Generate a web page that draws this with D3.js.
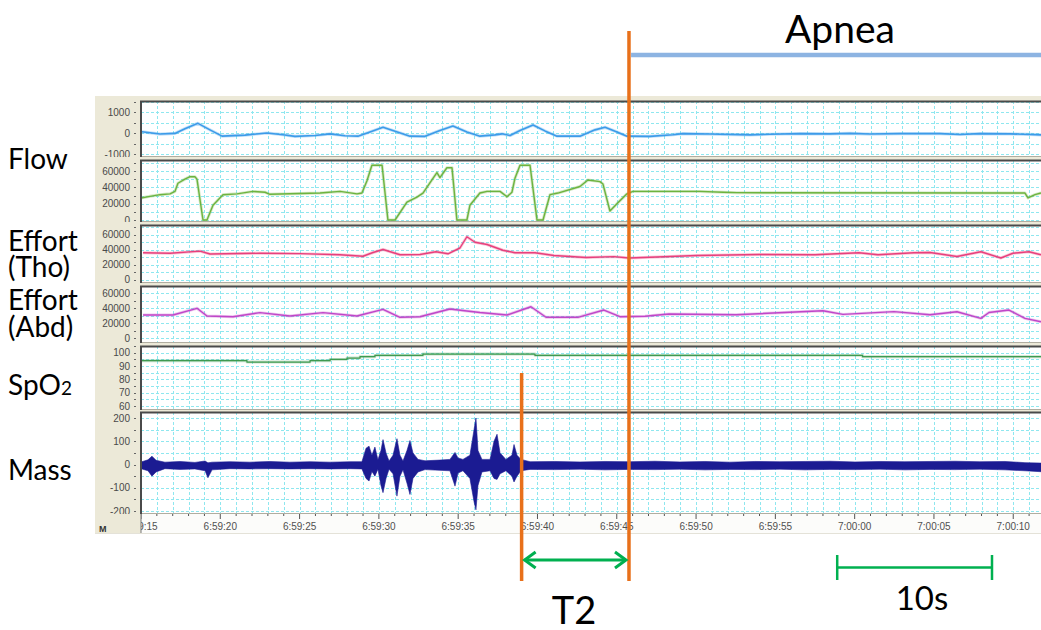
<!DOCTYPE html>
<html>
<head>
<meta charset="utf-8">
<script src="https://cdnjs.cloudflare.com/ajax/libs/d3/7.8.5/d3.min.js"></script>
<style>
body { margin: 0; background: #fff; }
svg { display: block; }
</style>
</head>
<body>
<div id="interface"></div>
<script>

// ---- data (time in seconds from 6:59:15) ----
var flowTime = [0.06, 1.2, 2.14, 2.77, 3.59, 4.35, 5.11, 6.56, 7.94, 8.95, 9.71, 10.97, 11.92, 12.86, 13.68, 14.57, 15.26, 16.02, 16.96, 17.91, 18.85, 19.67, 20.55, 21.37, 22.32, 22.76, 23.27, 23.9, 24.72, 25.47, 26.23, 27.68, 28.63, 29.26, 30.01, 30.64, 32.09, 33.54, 34.17, 35.87, 38.4, 39.66, 41.56, 43.44, 44.7, 45.96, 47.86, 50.38, 51.64, 52.9, 54.79, 56.05, 56.75];
var flowValue = [60, -50, -20, 200, 460, 150, -150, -100, 0, -80, -160, -120, -40, -130, -150, 80, 270, 80, -150, -160, 120, 330, 50, -150, -90, -40, -120, 120, 380, 100, -150, -150, 150, 270, 50, -150, -160, -80, -30, -50, -90, -60, -30, -40, -20, -50, -30, -30, -70, -30, -40, -70, -90];

var pressTime = [0, 0.57, 1.2, 1.83, 2.14, 2.33, 2.77, 3.09, 3.4, 3.53, 3.91, 4.16, 4.54, 5.17, 6.05, 7.06, 7.82, 8.13, 11.29, 12.55, 13.62, 13.93, 14.25, 14.56, 15.2, 15.57, 16.02, 16.77, 17.4, 17.78, 18.41, 18.66, 18.85, 19.29, 19.61, 19.92, 20.55, 20.74, 21.37, 21.82, 22.64, 23.08, 23.39, 23.58, 23.9, 24.53, 24.97, 25.35, 25.79, 26.29, 27.68, 28.18, 28.94, 29.13, 29.57, 30.01, 30.64, 31.02, 35.24, 36.7, 37.58, 55.74, 55.93, 56.37, 56.75];
var pressValue = [27000, 29000, 31000, 32000, 35000, 45000, 50000, 53000, 53000, 50000, 0, 0, 18000, 31000, 32000, 35000, 34000, 31500, 33000, 35000, 32000, 33000, 48000, 67000, 67000, 0, 0, 22000, 28000, 33000, 51000, 58000, 52000, 64000, 64000, 0, 0, 18000, 33000, 35000, 35000, 28500, 34000, 51000, 67000, 67000, 0, 0, 31000, 33000, 41000, 49000, 47000, 44000, 11000, 20000, 32000, 35000, 35000, 34000, 33500, 33000, 27000, 31000, 33000];

var thoTime = [0.13, 1.83, 3.72, 4.35, 7.5, 10.03, 12.55, 14.0, 14.63, 15.26, 16.33, 17.59, 18.6, 19.36, 20.11, 20.55, 21.06, 21.82, 22.82, 23.58, 24.84, 26.04, 28.06, 29.82, 30.77, 32.53, 35.06, 39.03, 42.5, 45.27, 46.47, 48.74, 49.75, 51.45, 52.96, 54.22, 54.98, 55.99, 56.75];
var thoValue = [35600, 35000, 37800, 34000, 35000, 34500, 33000, 31000, 36000, 40000, 33000, 33300, 37000, 34300, 42000, 57000, 49700, 46700, 39000, 35600, 35600, 32000, 29300, 30500, 28700, 30000, 32000, 33300, 33000, 35600, 33000, 35600, 36000, 30600, 37000, 28700, 35000, 37000, 33000];

var abdTime = [0.13, 2.02, 3.53, 4.16, 5.8, 7.5, 9.39, 11.48, 13.62, 15.26, 16.33, 17.59, 19.48, 20.55, 21.37, 23.08, 24.59, 25.54, 27.55, 29.19, 30.2, 31.78, 33.29, 37.52, 43.0, 44.26, 47.48, 49.75, 51.45, 52.96, 53.47, 54.73, 55.74, 56.75];
var abdValue = [30700, 30700, 39600, 29300, 28400, 33800, 29300, 33800, 29300, 38200, 27600, 28400, 38700, 36000, 34000, 30700, 41700, 27600, 27600, 37300, 28400, 29000, 32000, 31000, 36400, 31500, 35100, 31000, 35000, 26200, 34000, 37300, 26200, 21700];

var spo2Time = [0, 6.68, 10.66, 11.92, 12.99, 13.81, 14.75, 17.78, 24.84, 45.5, 56.75];
var spo2Value = [94, 93, 94, 95, 96, 97, 98, 99, 98, 97, 97];

var massTime = [0.06, 0.44, 0.69, 0.95, 1.51, 2.46, 3.4, 4.04, 4.22, 4.48, 5.61, 6.87, 8.13, 9.39, 10.66, 11.92, 13.18, 13.93, 14.19, 14.38, 14.56, 14.75, 14.94, 15.13, 15.26, 15.45, 15.64, 15.89, 16.14, 16.33, 16.52, 16.77, 16.96, 17.15, 17.47, 17.91, 18.85, 19.48, 19.8, 19.99, 20.3, 20.74, 21.0, 21.12, 21.25, 21.5, 22.01, 22.26, 22.45, 22.64, 23.01, 23.39, 23.52, 23.71, 23.96, 24.53, 26.1, 27.68, 29.26, 30.83, 32.41, 33.98, 35.56, 37.14, 38.71, 40.29, 41.87, 43.44, 45.02, 46.6, 48.17, 49.75, 51.32, 52.9, 54.48, 55.74, 56.75];
var massHigh = [12, 20, 36, 18, 10, 13, 9, 15, 7, 10, 12, 10, 13, 10, 12, 10, 12, 12, 70, 79, 40, 75, 20, 60, 107, 50, 15, 40, 111, 40, 15, 60, 103, 50, 22, 16, 19, 22, 52, 28, 22, 40, 150, 200, 60, 22, 22, 100, 130, 50, 22, 40, 86, 40, 22, 12, 13, 11, 13, 12, 14, 11, 13, 10, 13, 12, 13, 14, 11, 13, 12, 13, 14, 12, 13, 8, 6];
var massLow = [-19, -27, -50, -32, -18, -21, -19, -27, -57, -23, -18, -19, -18, -19, -18, -19, -18, -19, -60, -71, -30, -50, -20, -90, -121, -60, -20, -40, -136, -50, -23, -80, -129, -60, -32, -22, -25, -27, -93, -37, -27, -60, -160, -195, -90, -32, -27, -60, -64, -40, -27, -50, -75, -50, -27, -21, -22, -20, -23, -21, -22, -20, -23, -21, -22, -20, -23, -21, -22, -20, -23, -21, -22, -20, -23, -27, -31];

// tick labels
var flowTicks = [-1000, 0, 1000];
var pressTicks = [0, 20000, 40000, 60000];
var effortTicks = [0, 20000, 40000, 60000];
var spo2Ticks = [60, 70, 80, 90, 100];
var massTicks = [-200, -100, 0, 100, 200];
var timeTicks = [0, 5, 10, 15, 20, 25, 30, 35, 40, 45, 50, 55];
var timeLabels = ["6:59:15", "6:59:20", "6:59:25", "6:59:30", "6:59:35", "6:59:40", "6:59:45", "6:59:50", "6:59:55", "7:00:00", "7:00:05", "7:00:10"];

// annotations (seconds)
var cursorTimes = [24.0, 30.77];
var apneaStart = 30.9;
var scaleBarTimes = [43.9, 53.66];


// global variables
var svg_w = 1041;
var svg_h = 630;
var plot_l = 141;
var plot_r = 1041;
var axis_l = 95;

var svg = d3.select("body")
	.select("#interface")
	.append("svg")
	.attr("width", svg_w)
	.attr("height", svg_h);

var x_scale = d3.scaleLinear()
	.domain([0, 56.75])
	.range([plot_l, plot_r]);

// panel layout: ref values and the pixel rows they sit on
var panels = [
	{id: "flow", top: 101, bottom: 157, ref: [0, 1000], refY: [133, 112], ticks: flowTicks, step: 500, color: "#3d9be9", width: 1.6,
		pts: d3.zip(flowTime, flowValue)},
	{id: "press", top: 160, bottom: 222, ref: [0, 60000], refY: [220, 171], ticks: pressTicks, step: 10000, color: "#6db33f", width: 1.4,
		pts: d3.zip(pressTime, pressValue)},
	{id: "tho", top: 225, bottom: 283, ref: [0, 60000], refY: [279.5, 234.5], ticks: effortTicks, step: 10000, color: "#e8407c", width: 1.4,
		pts: d3.zip(thoTime, thoValue)},
	{id: "abd", top: 286, bottom: 343, ref: [0, 60000], refY: [338, 293], ticks: effortTicks, step: 10000, color: "#c046c8", width: 1.4,
		pts: d3.zip(abdTime, abdValue)},
	{id: "spo2", top: 346, bottom: 410, ref: [60, 100], refY: [406, 352.7], ticks: spo2Ticks, step: 5, color: "#3f9a50", width: 1.3,
		pts: d3.zip(spo2Time, spo2Value), step_curve: true},
	{id: "mass", top: 412, bottom: 514, ref: [-200, 200], refY: [511, 418], ticks: massTicks, step: 50, color: "#1b1b92", width: 0.6,
		env: d3.zip(massTime, massHigh, massLow)}
];

// beige frame behind everything
svg.append("rect")
	.attr("x", axis_l).attr("y", 96)
	.attr("width", svg_w - axis_l).attr("height", 437)
	.attr("fill", "#ece9d8");

// time axis row
svg.append("rect")
	.attr("x", plot_l).attr("y", 514)
	.attr("width", plot_r - plot_l).attr("height", 19)
	.attr("fill", "#fcfcfa");

var defs = svg.append("defs");

// the big loop that makes every panel
for (var q = 0; q < panels.length; q++) {
	var p = panels[q];
	var y = d3.scaleLinear().domain(p.ref).range(p.refY);
	var lo = y.invert(p.bottom), hi = y.invert(p.top);

	defs.append("clipPath").attr("id", "clip-" + p.id)
		.append("rect")
		.attr("x", plot_l).attr("y", p.top)
		.attr("width", plot_r - plot_l).attr("height", p.bottom - p.top);
	defs.append("clipPath").attr("id", "aclip-" + p.id)
		.append("rect")
		.attr("x", axis_l).attr("y", p.top)
		.attr("width", plot_l - axis_l).attr("height", p.bottom - p.top);

	var g = svg.append("g").attr("class", "panel " + p.id);

	g.append("rect")
		.attr("x", plot_l).attr("y", p.top)
		.attr("width", plot_r - plot_l).attr("height", p.bottom - p.top)
		.attr("fill", "#ffffff");

	var grid = g.append("g").attr("clip-path", "url(#clip-" + p.id + ")");

	// vertical grid, one per second
	grid.selectAll("line.v")
		.data(d3.range(0, 57, 1))
		.enter()
		.append("line")
		.attr("class", "v")
		.attr("x1", function(d) { return Math.round(x_scale(d)) + 0.5; })
		.attr("x2", function(d) { return Math.round(x_scale(d)) + 0.5; })
		.attr("y1", p.top)
		.attr("y2", p.bottom)
		.attr("stroke", "#8fe7ef")
		.attr("stroke-width", 1)
		.attr("stroke-dasharray", "3,2");

	// horizontal grid
	var hticks = d3.range(Math.ceil(lo / p.step) * p.step, hi, p.step);
	grid.selectAll("line.h")
		.data(hticks)
		.enter()
		.append("line")
		.attr("class", "h")
		.attr("x1", plot_l)
		.attr("x2", plot_r)
		.attr("y1", function(d) { return Math.round(y(d)) + 0.5; })
		.attr("y2", function(d) { return Math.round(y(d)) + 0.5; })
		.attr("stroke", "#8fe7ef")
		.attr("stroke-width", 1)
		.attr("stroke-dasharray", "3,2");

	// signal
	var sig = g.append("g").attr("clip-path", "url(#clip-" + p.id + ")");
	if (p.env) {
		var area = d3.area()
			.x(function(d) { return x_scale(d[0]); })
			.y0(function(d) { return y(d[2]); })
			.y1(function(d) { return y(d[1]); });
		sig.append("path")
			.attr("d", area(p.env))
			.attr("fill", p.color)
			.attr("stroke", p.color)
			.attr("stroke-width", p.width)
			.attr("stroke-linejoin", "round");
	} else {
		var line = d3.line()
			.x(function(d) { return x_scale(d[0]); })
			.y(function(d) { return y(d[1]); });
		if (p.step_curve) line.curve(d3.curveStepAfter);
		// soft halo like the screenshot
		sig.append("path")
			.attr("d", line(p.pts))
			.attr("fill", "none")
			.attr("stroke", p.color)
			.attr("stroke-opacity", 0.3)
			.attr("stroke-width", p.width + 1.6)
			.attr("stroke-linejoin", "round");
		sig.append("path")
			.attr("d", line(p.pts))
			.attr("fill", "none")
			.attr("stroke", p.color)
			.attr("stroke-width", p.width)
			.attr("stroke-linejoin", "round");
	}

	// axis labels (clipped like the original)
	var ax = g.append("g").attr("clip-path", "url(#aclip-" + p.id + ")");
	ax.selectAll("text")
		.data(p.ticks)
		.enter()
		.append("text")
		.attr("x", 130)
		.attr("y", function(d) { return y(d) + 3.6; })
		.attr("text-anchor", "end")
		.attr("font-family", "Liberation Sans, Arial, sans-serif")
		.attr("font-size", "10px")
		.attr("fill", "#4a4a4a")
		.text(function(d) { return d; });
	ax.selectAll("line")
		.data(hticks)
		.enter()
		.append("line")
		.attr("x1", 134).attr("x2", 136)
		.attr("y1", function(d) { return Math.round(y(d)) + 0.5; })
		.attr("y2", function(d) { return Math.round(y(d)) + 0.5; })
		.attr("stroke", "#666");

	// frame
	g.append("line")
		.attr("x1", plot_l - 1).attr("x2", plot_r)
		.attr("y1", p.top + 0.5).attr("y2", p.top + 0.5)
		.attr("stroke", "#4a4a4a").attr("stroke-width", 2);
	g.append("line")
		.attr("x1", plot_l).attr("x2", plot_r)
		.attr("y1", p.bottom - 0.5).attr("y2", p.bottom - 0.5)
		.attr("stroke", "#b0ada0").attr("stroke-width", 1);
	g.append("line")
		.attr("x1", plot_l).attr("x2", plot_l)
		.attr("y1", p.top).attr("y2", p.bottom)
		.attr("stroke", "#4a4a4a").attr("stroke-width", 2);
}

// time axis
defs.append("clipPath").attr("id", "clip-time")
	.append("rect")
	.attr("x", plot_l).attr("y", 510)
	.attr("width", plot_r - plot_l).attr("height", 24);
var tg = svg.append("g").attr("clip-path", "url(#clip-time)");
tg.selectAll("line")
	.data(d3.range(0, 57, 1))
	.enter()
	.append("line")
	.attr("x1", function(d) { return x_scale(d); })
	.attr("x2", function(d) { return x_scale(d); })
	.attr("y1", 514)
	.attr("y2", function(d) { return d % 5 == 0 ? 519 : 516; })
	.attr("stroke", "#555");
tg.selectAll("text")
	.data(timeTicks)
	.enter()
	.append("text")
	.attr("x", function(d) { return x_scale(d); })
	.attr("y", 530)
	.attr("text-anchor", "middle")
	.attr("font-family", "Liberation Sans, Arial, sans-serif")
	.attr("font-size", "10px")
	.attr("fill", "#505050")
	.text(function(d, i) { return timeLabels[i]; });
svg.append("line")
	.attr("x1", plot_l).attr("x2", plot_l)
	.attr("y1", 514).attr("y2", 533)
	.attr("stroke", "#777").attr("stroke-width", 1);
svg.append("line")
	.attr("x1", axis_l).attr("x2", plot_r)
	.attr("y1", 533.5).attr("y2", 533.5)
	.attr("stroke", "#e4e2d8");
svg.append("text")
	.attr("x", 99).attr("y", 532)
	.attr("font-family", "Liberation Sans, Arial, sans-serif")
	.attr("font-size", "9px")
	.attr("font-weight", "bold")
	.attr("fill", "#333")
	.text("M");


// ---- slide annotations ----
var label_font = "Lato, 'Open Sans', sans-serif";

var sideLabels = [
	{t: "Flow", y: 169}, {t: "Effort", y: 251}, {t: "(Tho)", y: 277},
	{t: "Effort", y: 310}, {t: "(Abd)", y: 337}, {t: "Mass", y: 480}
];
svg.selectAll("text.side")
	.data(sideLabels)
	.enter()
	.append("text")
	.attr("class", "side")
	.attr("x", 8)
	.attr("y", function(d) { return d.y; })
	.attr("font-family", label_font)
	.attr("font-size", "28px")
	.attr("fill", "#000")
	.text(function(d) { return d.t; });
var spo = svg.append("text")
	.attr("x", 8).attr("y", 395)
	.attr("font-family", label_font)
	.attr("font-size", "28px")
	.attr("fill", "#000");
spo.append("tspan").text("SpO");
spo.append("tspan").attr("font-size", "19px").text("2");

// apnea bar
svg.append("line")
	.attr("x1", x_scale(apneaStart)).attr("x2", plot_r)
	.attr("y1", 55).attr("y2", 55)
	.attr("stroke", "#8db4e2").attr("stroke-width", 4.5);
svg.append("text")
	.attr("x", 840).attr("y", 43)
	.attr("text-anchor", "middle")
	.attr("font-family", label_font)
	.attr("font-size", "39px")
	.attr("fill", "#000")
	.text("Apnea");

// orange cursors
svg.selectAll("line.cursor")
	.data(cursorTimes)
	.enter()
	.append("line")
	.attr("class", "cursor")
	.attr("x1", function(d) { return x_scale(d); })
	.attr("x2", function(d) { return x_scale(d); })
	.attr("y1", function(d, i) { return i == 0 ? 373 : 31; })
	.attr("y2", 581)
	.attr("stroke", "#e8701a")
	.attr("stroke-width", 3.5);

// T2 double arrow
var ay = 560;
var ax1 = x_scale(cursorTimes[0]) + 3, ax2 = x_scale(cursorTimes[1]) - 3;
svg.append("line")
	.attr("x1", ax1).attr("x2", ax2)
	.attr("y1", ay).attr("y2", ay)
	.attr("stroke", "#00b050").attr("stroke-width", 3);
svg.append("path")
	.attr("d", "M" + (ax1 + 11) + "," + (ay - 8) + "L" + ax1 + "," + ay + "L" + (ax1 + 11) + "," + (ay + 8)
		+ "M" + (ax2 - 11) + "," + (ay - 8) + "L" + ax2 + "," + ay + "L" + (ax2 - 11) + "," + (ay + 8))
	.attr("fill", "none")
	.attr("stroke", "#00b050")
	.attr("stroke-width", 3)
	.attr("stroke-linejoin", "miter");
svg.append("text")
	.attr("x", 574).attr("y", 624)
	.attr("text-anchor", "middle")
	.attr("font-family", label_font)
	.attr("font-size", "38px")
	.attr("fill", "#000")
	.text("T2");

// 10 s scale bar
var sy = 567.5;
var sx1 = x_scale(scaleBarTimes[0]), sx2 = x_scale(scaleBarTimes[1]);
svg.append("line")
	.attr("x1", sx1).attr("x2", sx2)
	.attr("y1", sy).attr("y2", sy)
	.attr("stroke", "#00b050").attr("stroke-width", 2.5);
svg.selectAll("line.cap")
	.data([sx1, sx2])
	.enter()
	.append("line")
	.attr("class", "cap")
	.attr("x1", function(d) { return d; })
	.attr("x2", function(d) { return d; })
	.attr("y1", 555).attr("y2", 580)
	.attr("stroke", "#00b050").attr("stroke-width", 2.5);
svg.append("text")
	.attr("x", 922).attr("y", 610)
	.attr("text-anchor", "middle")
	.attr("font-family", label_font)
	.attr("font-size", "33px")
	.attr("fill", "#000")
	.text("10s");

</script>
</body>
</html>
